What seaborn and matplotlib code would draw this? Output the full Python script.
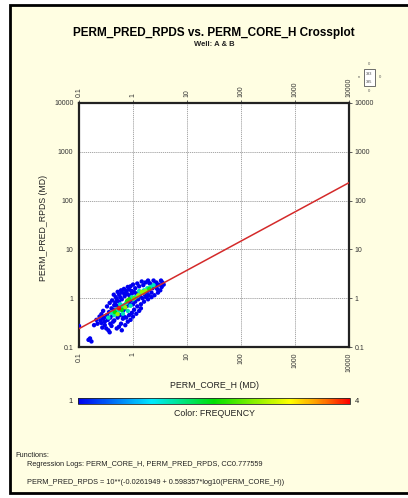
import numpy as np
import pandas as pd
import matplotlib
matplotlib.use("Agg")
import matplotlib.pyplot as plt
from matplotlib.colors import LinearSegmentedColormap, Normalize
from matplotlib.cm import ScalarMappable
from matplotlib.patches import Rectangle
import seaborn as sns

# ---- crossplot data ----
perm_core_h = [
    0.10, 0.15, 0.16, 0.17, 0.19, 0.22, 0.25, 0.24, 0.28, 0.30, 0.32, 0.35, 0.37, 0.38, 0.40,
    0.33, 0.36, 0.40, 0.41, 0.45, 0.48, 0.50, 0.52, 0.55, 0.58, 0.60, 0.63, 0.68, 0.70, 0.75,
    0.80, 0.85, 0.90, 0.95, 1.00, 1.10, 1.20, 1.30, 1.45, 1.55, 1.70, 1.90, 2.10, 2.40, 2.70,
    3.00, 3.40, 3.50, 3.20, 2.90, 2.50, 2.20, 1.90, 1.60, 1.40, 1.20, 1.05, 0.95, 0.85, 0.75,
    0.65, 0.60, 0.55, 0.50, 0.62, 0.72, 0.80, 0.90, 1.00, 1.15, 1.30, 0.45, 0.52, 0.58, 0.48,
    0.42, 0.30, 0.27, 0.65, 0.70, 0.78, 0.85, 0.92, 1.00, 1.10, 1.25, 1.35, 1.50, 1.65, 1.80,
    2.00, 2.30, 2.60, 2.80, 2.20, 1.95, 1.75, 0.55, 0.62, 0.70, 0.80, 0.88, 0.95, 1.05, 1.15,
    0.50, 0.45, 0.38, 0.34, 3.30, 0.29, 0.43, 0.26, 2.00, 2.60,
    0.28, 0.33, 0.37, 0.26, 0.44, 0.21, 0.47, 0.68, 1.40, 3.70,
    0.40, 0.45, 0.55, 0.60, 0.68, 0.75, 0.90, 1.00, 1.10, 1.40, 1.60, 1.85, 2.10, 2.40, 0.50,
    0.65, 0.80, 1.20, 0.35, 0.58, 0.95, 1.30,
    0.52, 0.72, 1.25, 1.45, 0.85, 1.70, 2.00, 0.62, 1.05, 0.46, 1.55, 0.78,
    0.55,
]
perm_pred_rpds = [
    0.27, 0.14, 0.15, 0.13, 0.28, 0.30, 0.35, 0.42, 0.38, 0.33, 0.24, 0.22, 0.20, 0.30, 0.27,
    0.45, 0.52, 0.62, 0.90, 0.72, 1.05, 0.95, 1.35, 1.20, 1.05, 1.45, 1.30, 1.55, 1.25, 1.40,
    1.70, 1.50, 1.75, 1.40, 1.90, 1.60, 2.00, 1.75, 2.20, 1.85, 2.10, 2.30, 1.95, 2.30, 2.10,
    1.90, 1.70, 2.10, 1.45, 1.30, 1.15, 1.05, 0.95, 0.85, 0.75, 0.68, 0.58, 0.50, 0.45, 0.40,
    0.38, 0.30, 0.26, 0.24, 0.22, 0.28, 0.33, 0.36, 0.42, 0.48, 0.55, 0.35, 0.40, 0.45, 0.50,
    0.45, 0.28, 0.25, 0.55, 0.60, 0.70, 0.80, 0.90, 0.75, 0.85, 0.95, 1.10, 1.00, 1.20, 1.35,
    1.50, 1.60, 1.75, 1.55, 1.30, 1.15, 1.05, 0.85, 0.95, 1.10, 1.20, 1.10, 1.25, 1.35, 1.25,
    0.70, 0.58, 0.40, 0.36, 2.30, 0.40, 0.33, 0.31, 2.05, 2.00,
    0.55, 0.68, 0.80, 0.47, 1.18, 0.36, 0.82, 0.42, 0.62, 1.90,
    0.50, 0.45, 0.55, 0.65, 0.72, 0.80, 0.70, 0.95, 1.05, 1.25, 1.45, 1.60, 1.70, 1.85, 0.60,
    0.48, 0.55, 1.10, 0.40, 0.75, 1.05, 1.40,
    0.47, 0.65, 1.15, 1.35, 0.95, 1.40, 1.55, 0.58, 1.00, 0.52, 1.30, 0.88,
    0.62,
]
frequency = (
    [1] * 125
    + [2] * 22
    + [3, 3, 3, 3, 2.6, 3, 2.6, 2.5, 2.8, 2.5, 3, 2.6]
    + [4]
)

x_ticks = [0.1, 1, 10, 100, 1000, 10000]
x_tick_labels = ["0.1", "1", "10", "100", "1000", "10000"]
y_ticks = [0.1, 1, 10, 100, 1000, 10000]
y_tick_labels = ["0.1", "1", "10", "100", "1000", "10000"]

# regression PERM_PRED_RPDS = 10**(a + b*log10(PERM_CORE_H))
reg_a = -0.0261949
reg_b = 0.598357
reg_cc = 0.777559

W, H = 408, 498
BG = "#fffee2"
FONT = ["Liberation Sans", "DejaVu Sans"]

sns.set_theme(style="white")
plt.rcParams["font.family"] = FONT

fig = plt.figure(figsize=(W / 100, H / 100), dpi=100)
fig.patch.set_facecolor("white")


def fx(px):
    return px / W


def fy(py):
    return 1 - py / H


# yellow sheet with black frame
sheet = Rectangle((fx(10), fy(493)), fx(410) - fx(10), fy(5) - fy(493),
                  transform=fig.transFigure, facecolor=BG, edgecolor="black",
                  linewidth=2.0, zorder=-5)
fig.patches.append(sheet)

cmap = LinearSegmentedColormap.from_list(
    "freq",
    [(0.0, "#0000f0"), (0.27, "#00e8ff"), (0.5, "#00e000"),
     (0.78, "#ffff00"), (0.88, "#ff9900"), (1.0, "#ff0000")],
)
norm = Normalize(1, 4)

ax = fig.add_axes([fx(79), fy(347), fx(349) - fx(79), fy(103) - fy(347)])
ax.set_zorder(2)
ax.set_facecolor("white")

df = pd.DataFrame({"PERM_CORE_H": perm_core_h,
                   "PERM_PRED_RPDS": perm_pred_rpds,
                   "FREQUENCY": frequency}).sort_values("FREQUENCY", kind="stable")

sns.scatterplot(data=df, x="PERM_CORE_H", y="PERM_PRED_RPDS", hue="FREQUENCY",
                palette=cmap, hue_norm=norm, s=10, marker="o", linewidth=0,
                legend=False, ax=ax, zorder=3)

line_x = np.array([0.1, 10000.0])
line_y = 10 ** (reg_a + reg_b * np.log10(line_x))
sns.lineplot(x=line_x, y=line_y, color="#d42a2a", linewidth=1.1, ax=ax, zorder=4)

ax.set_xscale("log")
ax.set_yscale("log")
ax.set_xlim(0.1, 10000)
ax.set_ylim(0.1, 10000)
ax.set_xticks(x_ticks)
ax.set_xticklabels(x_tick_labels)
ax.set_yticks(y_ticks)
ax.set_yticklabels(y_tick_labels)
ax.minorticks_off()
ax.grid(True, which="major", color="#9a9a9a", linestyle=(0, (1.5, 1.0)), linewidth=0.6)
ax.tick_params(axis="both", which="major", labelsize=5, length=2.5, width=0.6,
               color="#444444", pad=1.5, top=True, right=True,
               labeltop=True, labelright=True, direction="out")
ax.tick_params(axis="x", labelrotation=90)
for lab in ax.get_xticklabels() + ax.get_yticklabels():
    lab.set_color("#333333")
for sp in ax.spines.values():
    sp.set_color("#222222")
    sp.set_linewidth(1.6)
ax.set_xlabel("")
ax.set_ylabel("")

# titles and axis captions
fig.text(fx(214), fy(33), "PERM_PRED_RPDS vs. PERM_CORE_H Crossplot",
         ha="center", va="center", fontsize=8.5, fontweight="bold", color="black")
fig.text(fx(214), fy(44), "Well: A & B", ha="center", va="center",
         fontsize=5.5, fontweight="bold", color="#222222")
fig.text(fx(214), fy(385), "PERM_CORE_H (MD)", ha="center", va="center",
         fontsize=6.3, color="#222222")
fig.text(fx(43), fy(228), "PERM_PRED_RPDS (MD)", ha="center", va="center",
         rotation=90, fontsize=6.3, color="#222222")

# colour scale
cax = fig.add_axes([fx(78), fy(404), fx(350) - fx(78), fy(398) - fy(404)])
cax.set_zorder(2)
cb = fig.colorbar(ScalarMappable(norm=norm, cmap=cmap), cax=cax,
                  orientation="horizontal")
cb.set_ticks([])
cb.outline.set_linewidth(0.6)
fig.text(fx(71), fy(401), "1", ha="center", va="center", fontsize=5.5, color="#222222")
fig.text(fx(357), fy(401), "4", ha="center", va="center", fontsize=5.5, color="#222222")
fig.text(fx(214), fy(413), "Color: FREQUENCY", ha="center", va="center",
         fontsize=6.3, color="#222222")

# small well-count marker box
box = Rectangle((fx(364), fy(86)), fx(11), fy(69) - fy(86),
                transform=fig.transFigure, facecolor="white", edgecolor="#555555",
                linewidth=0.6, zorder=2)
fig.patches.append(box)
fig.text(fx(369.5), fy(74), "393", ha="center", va="center", fontsize=2.8, color="#444444")
fig.text(fx(369.5), fy(82), "395", ha="center", va="center", fontsize=2.8, color="#444444")
fig.text(fx(369.5), fy(64), "0", ha="center", va="center", fontsize=3, color="#555555")
fig.text(fx(369.5), fy(91), "0", ha="center", va="center", fontsize=3, color="#555555")
fig.text(fx(359), fy(77), "n", ha="center", va="center", fontsize=3, color="#555555")
fig.text(fx(380), fy(77), "0", ha="center", va="center", fontsize=3, color="#555555")

# regression summary
fig.text(fx(15), fy(455), "Functions:", ha="left", va="center", fontsize=5.3, color="#222222")
fig.text(fx(27), fy(465),
         f"Regression Logs: PERM_CORE_H, PERM_PRED_RPDS, CC{reg_cc}",
         ha="left", va="center", fontsize=5.3, color="#222222")
fig.text(fx(27), fy(482),
         f"PERM_PRED_RPDS = 10**({reg_a} + {reg_b}*log10(PERM_CORE_H))",
         ha="left", va="center", fontsize=5.3, color="#222222")

fig.savefig("out.png", dpi=100, facecolor=fig.get_facecolor())
